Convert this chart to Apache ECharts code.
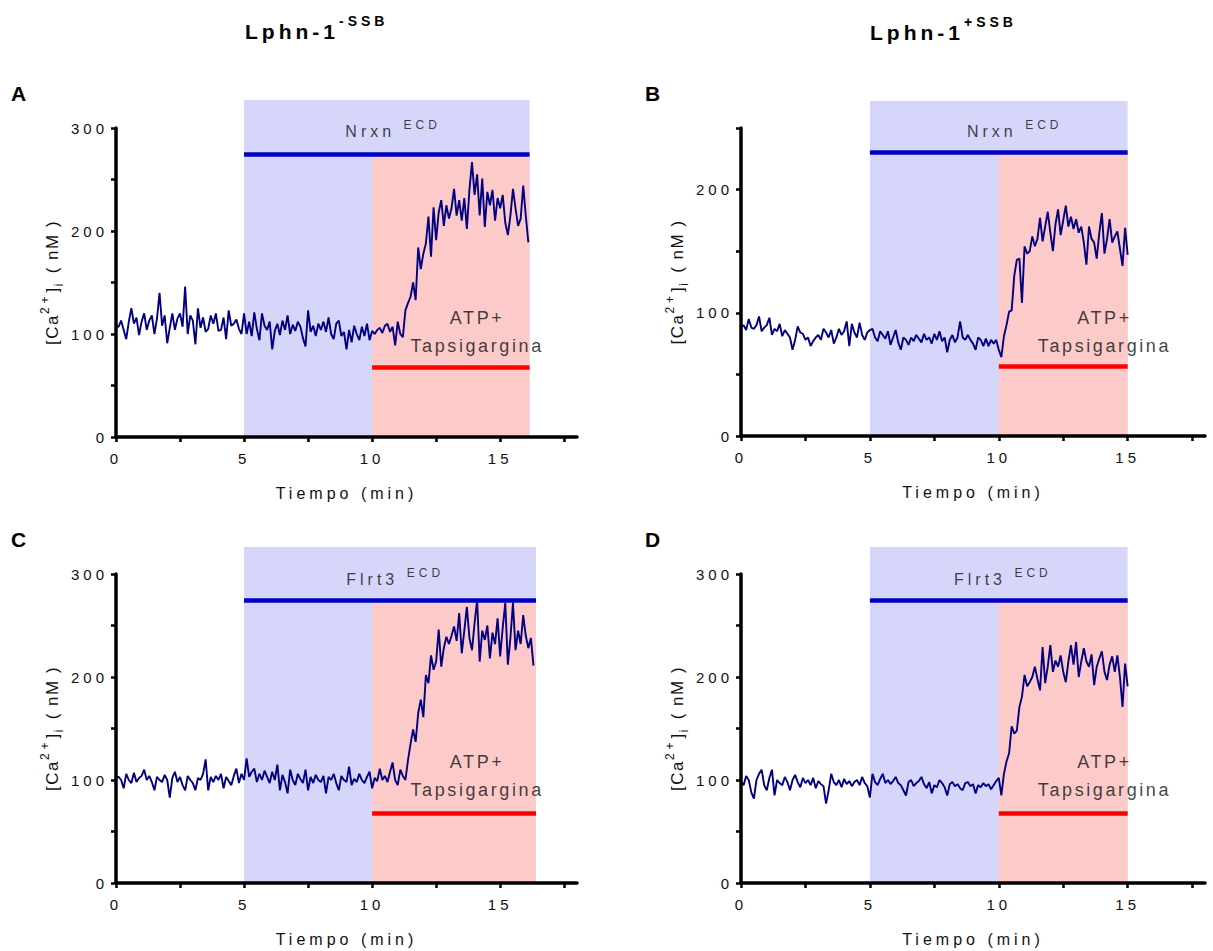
<!DOCTYPE html>
<html><head><meta charset="utf-8">
<script src="https://cdn.jsdelivr.net/npm/echarts@6.0.0/dist/echarts.min.js"></script>
<style>
html,body{margin:0;padding:0;background:#fff;}
#main{width:1213px;height:951px;}
#main text{letter-spacing:4px;}
#main text[style*="18px"]{letter-spacing:2.6px;}
#main text[style*="17px"]{letter-spacing:1.5px;}
</style></head><body><div id="main"></div>
<script>
// ---------- DATA ----------
const sampleStepMin = 0.1;           // minutes between samples
const xTickValues = [0, 2.5, 5, 7.5, 10, 12.5, 15, 17.5];
const xLabelValues = [0, 5, 10, 15];
const yTicks300 = [0, 50, 100, 150, 200, 250, 300];
const yLabels300 = [0, 100, 200, 300];
const yTicks250 = [0, 50, 100, 150, 200, 250];
const yLabels250 = [0, 100, 200];

// stimulus windows [protein start, ATP start, end] (min)
const stimA = [5, 10, 16.15];
const stimB = [5, 10, 15];
const stimC = [5, 10, 16.4];
const stimD = [5, 10, 15];

const columnTitles = ['Lphn-1', 'Lphn-1'];
const columnSup = ['-SSB', '+SSB'];
const panelLetters = ['A', 'B', 'C', 'D'];
const proteins = ['Nrxn', 'Nrxn', 'Flrt3', 'Flrt3'];

// [Ca2+]i (nM), one value per sample
const caA = [
108,107,113,104,95,112,125,110,116,99,
112,120,104,113,118,100,115,140,108,118,
91,106,120,104,115,120,107,146,100,118,
113,90,125,106,116,102,105,118,110,120,
103,104,116,95,123,108,110,114,105,100,
120,100,112,98,121,105,94,120,108,104,
112,85,103,110,99,113,104,118,100,109,
103,112,107,96,88,123,102,108,98,110,
104,112,102,116,100,95,110,113,98,102,
85,104,92,108,100,94,107,98,110,94,
103,100,104,106,101,108,110,102,107,89,
112,100,97,123,130,136,150,133,184,163,
178,188,214,175,223,191,218,230,205,225,
212,222,241,215,230,210,232,202,240,267,
235,255,215,251,204,238,225,240,210,232,
222,235,208,196,215,241,222,205,212,244,
215,189];
const caB = [
88,90,86,95,88,87,90,97,85,88,
90,96,82,87,85,91,81,86,83,80,
70,78,89,84,83,78,80,73,77,80,
82,78,87,84,80,86,75,80,87,82,
85,93,73,91,84,80,92,82,78,84,
86,87,80,77,85,82,79,85,74,80,
86,76,70,80,78,74,80,77,82,79,
76,83,78,80,75,83,78,85,77,80,
68,78,82,76,80,93,80,78,82,78,
75,70,80,78,73,79,73,78,75,78,
70,64,81,90,101,102,130,143,144,108,
154,148,150,162,154,160,177,158,170,182,
165,150,172,184,163,175,187,170,178,168,
176,165,170,157,139,170,160,157,144,165,
181,148,160,176,157,162,166,152,138,169,
147];
const caC = [
103,103,100,92,106,100,97,107,98,102,
104,110,100,104,98,90,103,100,98,105,
100,83,102,108,98,103,95,90,104,100,
97,90,102,100,106,120,90,103,98,104,
100,106,92,103,99,95,104,111,97,106,
100,121,103,108,111,98,106,100,109,103,
97,108,100,115,90,105,98,87,110,100,
95,106,101,97,110,90,103,97,105,100,
98,104,87,103,100,106,97,90,104,100,
98,113,95,101,98,106,100,97,103,108,
92,102,99,111,100,104,98,108,117,100,
95,110,104,100,119,135,149,137,165,178,
161,202,194,221,207,215,246,210,228,239,
232,240,249,235,262,223,245,268,238,226,
252,275,215,245,236,250,218,243,232,257,
220,248,272,212,238,272,226,245,232,260,
240,228,238,211];
const caD = [
98,95,104,100,88,82,100,106,110,95,
90,102,110,85,100,97,95,103,98,90,
100,105,98,93,102,97,100,95,102,92,
99,96,94,77,90,106,98,95,100,93,
101,96,99,94,98,100,95,103,97,94,
83,106,98,95,101,106,97,100,96,99,
103,97,95,90,85,98,100,94,97,99,
103,96,92,98,87,95,93,100,97,93,
85,96,98,94,96,92,90,97,98,94,
96,87,95,93,97,94,96,91,95,99,
102,85,106,118,126,152,145,148,171,181,
202,191,195,200,210,198,187,229,194,210,
231,205,216,210,221,205,195,215,231,212,
234,200,215,228,215,210,222,192,210,218,
225,205,197,212,220,205,221,200,171,213,
191];

// ---------- TEXT MEASURE (letter-spaced look) ----------
function spacingFor(font) {
  const m = /(\d+(?:\.\d+)?)px/.exec(font || '');
  const s = m ? +m[1] : 12;
  if (s === 18) return 2.6;
  if (s === 17) return 1.5;
  return 4;
}
const mctx = document.createElement('canvas').getContext('2d');
echarts.setPlatformAPI({
  measureText: function (text, font) {
    mctx.font = font || '12px sans-serif';
    return { width: mctx.measureText(text).width + text.length * spacingFor(font) };
  }
});

// ---------- LAYOUT ----------
const FONT = 'Liberation Sans, Arial, sans-serif';
const TXT = '#111';
const panels = [
  { data: caA, stim: stimA, yMax: 300, yTicks: yTicks300, yLabels: yLabels300,
    grid: {left:116, top:128, width:461, height:309}, shade: {left:116, top:100, width:461, height:337},
    blueLvl: 275, redLvl: 68, protPos: [10.82, 297], atpPos: [14.1, 102] },
  { data: caB, stim: stimB, yMax: 250, yTicks: yTicks250, yLabels: yLabels250,
    grid: {left:741, top:128, width:464, height:308}, shade: {left:741, top:101, width:464, height:335},
    blueLvl: 230, redLvl: 57, protPos: [10.62, 247], atpPos: [14.1, 84.5] },
  { data: caC, stim: stimC, yMax: 300, yTicks: yTicks300, yLabels: yLabels300,
    grid: {left:116, top:574, width:461, height:309}, shade: {left:116, top:547, width:461, height:336},
    blueLvl: 275, redLvl: 68, protPos: [10.9, 295], atpPos: [14.1, 103.4] },
  { data: caD, stim: stimD, yMax: 300, yTicks: yTicks300, yLabels: yLabels300,
    grid: {left:741, top:574, width:464, height:309}, shade: {left:741, top:547, width:464, height:336},
    blueLvl: 275, redLvl: 68, protPos: [10.16, 295], atpPos: [14.1, 103.4] }
];
const letterPos = [[11, 81], [645, 81], [11, 527], [645, 527]];
const titlePos = [[245, 12], [870, 13]];

const AXIS_W = 3.5;
const grids = [], xAxes = [], yAxes = [], series = [];
panels.forEach(function (p, i) {
  grids.push(p.grid);
  xAxes.push({
    type: 'value', gridIndex: i, min: 0, max: 18, z: 5,
    axisLine: { show: true, onZero: false, lineStyle: { color: '#000', width: AXIS_W } },
    axisTick: { show: true, customValues: xTickValues, length: 5, lineStyle: { color: '#000', width: 2.5 } },
    axisLabel: { customValues: xLabelValues, margin: 12, fontSize: 15, color: TXT, fontFamily: FONT },
    splitLine: { show: false },
    name: 'Tiempo (min)', nameLocation: 'middle', nameGap: 46,
    nameTextStyle: { fontSize: 16, color: TXT, fontFamily: FONT }
  });
  yAxes.push({
    type: 'value', gridIndex: i, min: 0, max: p.yMax, z: 5,
    axisLine: { show: true, lineStyle: { color: '#000', width: AXIS_W } },
    axisTick: { show: true, customValues: p.yTicks, length: 5, lineStyle: { color: '#000', width: 2.5 } },
    axisLabel: { customValues: p.yLabels, margin: 8, fontSize: 15, color: TXT, fontFamily: FONT },
    splitLine: { show: false },
    name: '[Ca{p|2+}]{b|i} ( nM )', nameLocation: 'middle', nameGap: 48,
    nameTextStyle: { fontSize: 17, color: TXT, fontFamily: FONT, lineHeight: 30,
      rich: { p: { fontSize: 12, verticalAlign: 'top', color: TXT, fontFamily: FONT },
              b: { fontSize: 12, verticalAlign: 'bottom', color: TXT, fontFamily: FONT } } }
  });
});
panels.forEach(function (p, i) {
  grids.push(p.shade);
  xAxes.push({ type: 'value', gridIndex: 4 + i, min: 0, max: 18, show: false });
  yAxes.push({ type: 'value', gridIndex: 4 + i, min: 0, max: 1, show: false });
});

panels.forEach(function (p, i) {
  const s0 = p.stim[0], s1 = p.stim[1], s2 = p.stim[2];
  // blue (protein) shading, extends above plot
  series.push({
    type: 'line', xAxisIndex: 4 + i, yAxisIndex: 4 + i, z: 0, silent: true,
    data: [[0, 0]], showSymbol: false, lineStyle: { opacity: 0 },
    markArea: { silent: true, itemStyle: { color: '#d6d6fb' },
      data: [[{ coord: [s0, 0] }, { coord: [s2, 1] }]] }
  });
  // pink (ATP + Tapsigargina) shading
  series.push({
    type: 'line', xAxisIndex: i, yAxisIndex: i, z: 1, silent: true,
    data: [], showSymbol: false,
    markArea: { silent: true, itemStyle: { color: '#fdcaca' },
      data: [[{ coord: [s1, 0] }, { coord: [s2, p.blueLvl] }]] }
  });
  // stimulus bars
  series.push({
    type: 'line', xAxisIndex: i, yAxisIndex: i, z: 2, silent: true,
    data: [], showSymbol: false,
    markLine: { silent: true, symbol: ['none', 'none'], label: { show: false },
      lineStyle: { width: 4.5, type: 'solid' },
      data: [
        [{ coord: [s0, p.blueLvl], lineStyle: { color: '#0000c4', width: 4.5, type: 'solid' } }, { coord: [s2, p.blueLvl] }],
        [{ coord: [s1, p.redLvl], lineStyle: { color: '#ff0000', width: 4.5, type: 'solid' } }, { coord: [s2, p.redLvl] }]
      ] }
  });
  // trace
  series.push({
    type: 'line', xAxisIndex: i, yAxisIndex: i, z: 3, silent: true,
    data: p.data.map(function (v, k) { return [+(k * sampleStepMin).toFixed(2), v]; }),
    showSymbol: false, symbol: 'none',
    lineStyle: { color: '#000080', width: 1.9 }
  });
  // annotations
  series.push({
    type: 'scatter', xAxisIndex: i, yAxisIndex: i, z: 4, silent: true, clip: false,
    symbolSize: 0,
    data: [
      { value: p.protPos, label: { formatter: '{m|' + proteins[i] + ' }{s|ECD}' } },
      { value: p.atpPos, label: { formatter: 'ATP+\nTapsigargina', fontSize: 18, lineHeight: 28 } }
    ],
    label: { show: true, position: 'inside', color: TXT, fontFamily: FONT, fontSize: 16, align: 'center',
      rich: { m: { fontSize: 16, lineHeight: 29, verticalAlign: 'middle', color: TXT, fontFamily: FONT },
              s: { fontSize: 12, verticalAlign: 'top', color: TXT, fontFamily: FONT } } }
  });
});

const titles = [];
columnTitles.forEach(function (t, i) {
  titles.push({
    text: '{m|' + t + '}{s|' + columnSup[i] + '}', left: titlePos[i][0], top: titlePos[i][1], padding: 0,
    textStyle: { rich: {
      m: { fontSize: 21, fontWeight: 'bold', lineHeight: 38, verticalAlign: 'middle', color: '#000', fontFamily: FONT },
      s: { fontSize: 14, fontWeight: 'bold', verticalAlign: 'top', color: '#000', fontFamily: FONT } } }
  });
});
panelLetters.forEach(function (l, i) {
  titles.push({ text: l, left: letterPos[i][0], top: letterPos[i][1], padding: 0,
    textStyle: { fontSize: 21, fontWeight: 'bold', color: '#000', fontFamily: FONT } });
});

const chart = echarts.init(document.getElementById('main'), null, { renderer: 'svg' });
chart.setOption({
  animation: false,
  backgroundColor: '#fff',
  textStyle: { fontFamily: FONT },
  title: titles,
  grid: grids,
  xAxis: xAxes,
  yAxis: yAxes,
  series: series
});
</script></body></html>
